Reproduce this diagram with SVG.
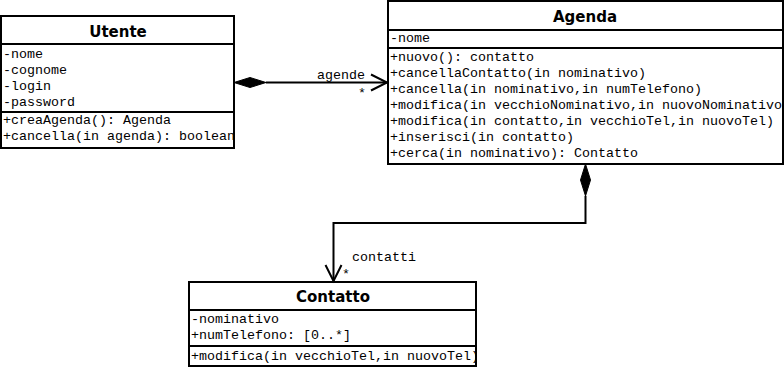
<svg xmlns="http://www.w3.org/2000/svg" width="784" height="367" viewBox="0 0 784 367">
  <style>
    .box { fill: #ffffff; stroke: #000000; stroke-width: 2; }
    .sep { stroke: #000000; stroke-width: 2; }
    .title { font-family: "DejaVu Sans", Verdana, sans-serif; font-weight: bold; font-size: 15px; text-anchor: middle; fill: #000; }
    .mono { font-family: "Liberation Mono", "Courier New", monospace; font-size: 13.33px; fill: #000; }
    .edge { fill: none; stroke: #000000; stroke-width: 2; }
    .diamond { fill: #000000; stroke: #000000; stroke-width: 1; }
  </style>
  <defs>
    <clipPath id="clip-utente"><rect x="2" y="17" width="231" height="130"/></clipPath>
    <clipPath id="clip-agenda"><rect x="389" y="2" width="393" height="162"/></clipPath>
    <clipPath id="clip-contatto"><rect x="190" y="283" width="285" height="83"/></clipPath>
  </defs>
  <rect width="784" height="367" fill="#ffffff"/>

  <!-- Class Utente -->
  <g id="utente">
    <rect class="box" x="1" y="16" width="233" height="132"/>
    <line class="sep" x1="1" y1="44" x2="234" y2="44"/>
    <line class="sep" x1="1" y1="112" x2="234" y2="112"/>
    <text class="title" x="118" y="37">Utente</text>
    <g clip-path="url(#clip-utente)">
      <text class="mono" x="3" y="57.5">-nome</text>
      <text class="mono" x="3" y="73.5">-cognome</text>
      <text class="mono" x="3" y="89.5">-login</text>
      <text class="mono" x="3" y="105.5">-password</text>
      <text class="mono" x="3" y="124">+creaAgenda(): Agenda</text>
      <text class="mono" x="3" y="140">+cancella(in agenda): boolean</text>
    </g>
  </g>

  <!-- Class Agenda -->
  <g id="agenda">
    <rect class="box" x="388" y="1" width="395" height="163"/>
    <line class="sep" x1="388" y1="30" x2="783" y2="30"/>
    <line class="sep" x1="388" y1="48" x2="783" y2="48"/>
    <text class="title" x="585" y="22">Agenda</text>
    <g clip-path="url(#clip-agenda)">
      <text class="mono" x="390" y="42">-nome</text>
      <text class="mono" x="390" y="61">+nuovo(): contatto</text>
      <text class="mono" x="390" y="77">+cancellaContatto(in nominativo)</text>
      <text class="mono" x="390" y="93">+cancella(in nominativo,in numTelefono)</text>
      <text class="mono" x="390" y="109">+modifica(in vecchioNominativo,in nuovoNominativo)</text>
      <text class="mono" x="390" y="125">+modifica(in contatto,in vecchioTel,in nuovoTel)</text>
      <text class="mono" x="390" y="141">+inserisci(in contatto)</text>
      <text class="mono" x="390" y="157">+cerca(in nominativo): Contatto</text>
    </g>
  </g>

  <!-- Class Contatto -->
  <g id="contatto">
    <rect class="box" x="189" y="282" width="287" height="84"/>
    <line class="sep" x1="189" y1="310" x2="476" y2="310"/>
    <line class="sep" x1="189" y1="346" x2="476" y2="346"/>
    <text class="title" x="333" y="302">Contatto</text>
    <g clip-path="url(#clip-contatto)">
      <text class="mono" x="191" y="323">-nominativo</text>
      <text class="mono" x="191" y="339">+numTelefono: [0..*]</text>
      <text class="mono" x="191" y="360">+modifica(in vecchioTel,in nuovoTel)</text>
    </g>
  </g>

  <!-- Composition associations -->
  <g id="connectors">
    <!-- Utente ◆→ Agenda -->
    <g id="utente-agenda">
      <polygon class="diamond" points="234,82.5 250,77.5 266,82.5 250,87.5"/>
      <line class="edge" x1="266" y1="82.5" x2="387" y2="82.5"/>
      <polyline class="edge" points="371,74.5 387,82.5 371,90.5"/>
      <text class="mono" x="317" y="79">agende</text>
      <text class="mono" x="358" y="97">*</text>
    </g>
    <!-- Agenda ◆→ Contatto -->
    <g id="agenda-contatto">
      <polygon class="diamond" points="585.5,164 590.5,180 585.5,196 580.5,180"/>
      <polyline class="edge" points="585.5,196 585.5,223 333.5,223 333.5,281"/>
      <polyline class="edge" points="325.5,265 333.5,281 341.5,265"/>
      <text class="mono" x="352" y="261">contatti</text>
      <text class="mono" x="342" y="278">*</text>
    </g>
  </g>
</svg>
